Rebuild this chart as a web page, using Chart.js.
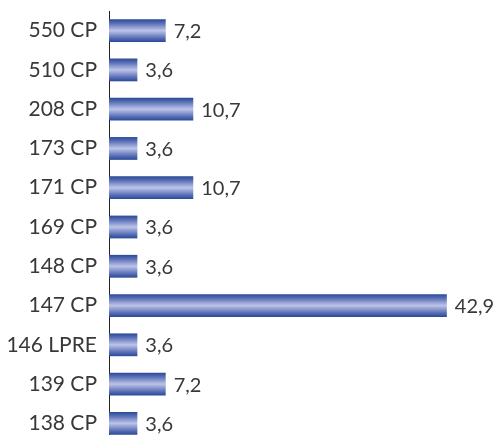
<!DOCTYPE html>
<html>
<head>
<meta charset="utf-8">
<script src="https://cdn.jsdelivr.net/npm/chart.js@4"></script>
<style>
  html, body { margin: 0; padding: 0; background: #fff; overflow: hidden; }
  #wrap { position: relative; width: 495px; height: 443px; }
</style>
</head>
<body>
<div id="wrap"><canvas id="barChart"></canvas></div>
<script>
// Data
const categories = ["550 CP", "510 CP", "208 CP", "173 CP", "171 CP", "169 CP",
  "148 CP", "147 CP", "146 LPRE", "139 CP", "138 CP"];
const values = [7.2, 3.6, 10.7, 3.6, 10.7, 3.6, 3.6, 42.9, 3.6, 7.2, 3.6];

const FONT = "Lato, sans-serif";
const CAT_PCT = 0.58;

// vertical gradient across each bar's thickness
function barFill(context) {
  const chart = context.chart;
  const y = chart.scales.y;
  const area = chart.chartArea;
  if (!y || !area) return "#3a55a4";
  const band = area.height / categories.length;
  const h = band * CAT_PCT;
  const cy = y.getPixelForValue(context.dataIndex);
  const g = chart.ctx.createLinearGradient(0, cy - h / 2, 0, cy + h / 2);
  g.addColorStop(0, "#284896");
  g.addColorStop(0.18, "#5a6fb6");
  g.addColorStop(0.5, "#bcc4e8");
  g.addColorStop(0.82, "#5a6fb6");
  g.addColorStop(1, "#284896");
  return g;
}

// value labels at the end of each bar
const valueLabels = {
  id: "valueLabels",
  afterDatasetsDraw(chart) {
    const ctx = chart.ctx;
    const meta = chart.getDatasetMeta(0);
    ctx.save();
    ctx.font = "20px " + FONT;
    ctx.fillStyle = "#383838";
    ctx.textAlign = "left";
    ctx.textBaseline = "middle";
    meta.data.forEach((bar, i) => {
      const txt = String(values[i]).replace(".", ",");
      ctx.fillText(txt, bar.x + 8, bar.y + 1);
    });
    ctx.restore();
  }
};

const ctx = document.getElementById("barChart").getContext("2d");
const barChart = new Chart(ctx, {
  type: "bar",
  data: {
    labels: categories,
    datasets: [
      {
        data: values,
        backgroundColor: barFill,
        borderWidth: 0,
        categoryPercentage: CAT_PCT,
        barPercentage: 1,
      },
    ],
  },
  options: {
    indexAxis: "y",
    responsive: true,
    maintainAspectRatio: false,
    animation: false,
    layout: {
      padding: { top: 11, right: 8, bottom: 0, left: 0 },
    },
    plugins: {
      legend: { display: false },
      tooltip: { enabled: false },
    },
    scales: {
      x: {
        display: false,
        min: 0,
        max: 48,
      },
      y: {
        afterFit(scale) {
          scale.width = 109;
          scale.paddingTop = 0;
          scale.paddingBottom = 0;
        },
        grid: {
          display: false,
          drawTicks: false,
        },
        border: {
          display: true,
          color: "#222",
          width: 1,
        },
        ticks: {
          padding: 12,
          color: "#383838",
          font: { family: FONT, size: 21 },
        },
      },
    },
  },
  plugins: [valueLabels],
});
</script>
</body>
</html>
